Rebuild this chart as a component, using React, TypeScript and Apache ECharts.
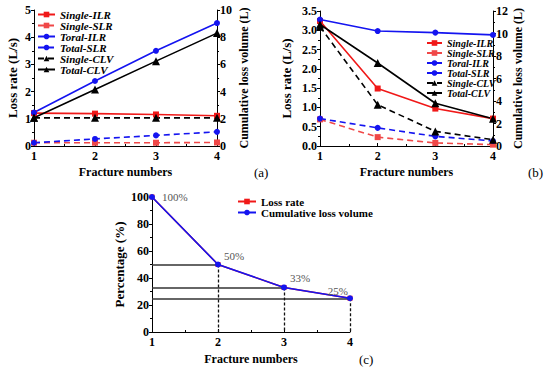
import React, { useEffect, useRef } from "react";
import * as echarts from "echarts";

const fractureNumbers = [1, 2, 3, 4];

// Panel (a)
const aSingleILR = [1.21, 1.19, 1.16, 1.11];
const aSingleSLR = [0.12, 0.12, 0.12, 0.13];
const aTotalILR = [1.23, 2.39, 3.5, 4.52];
const aTotalSLR = [0.12, 0.26, 0.39, 0.52];
const aSingleCLV = [2.07, 2.07, 2.07, 2.07];
const aTotalCLV = [2.08, 4.15, 6.24, 8.3];

// Panel (b)
const bSingleILR = [3.24, 1.49, 0.97, 0.71];
const bSingleSLR = [0.69, 0.23, 0.08, 0.035];
const bTotalILR = [3.28, 2.98, 2.94, 2.88];
const bTotalSLR = [0.71, 0.47, 0.25, 0.13];
const bSingleCLV = [10.6, 3.67, 1.3, 0.56];
const bTotalCLV = [10.8, 7.38, 3.8, 2.43];

// Panel (c)
const cLossRate = [100, 50, 33, 25];
const cCumulative = [100, 50, 33, 25];
const cLabels = ["100%", "50%", "33%", "25%"];

const seriesNames = ["Single-ILR", "Single-SLR", "Toral-ILR", "Total-SLR", "Single-CLV", "Total-CLV"];
const cNames = ["Loss rate", "Cumulative loss volume"];
const axisNames = {
  x: "Fracture numbers",
  lossRate: "Loss rate (L/s)",
  clv: "Cumulative loss volume (L)",
  pct: "Percentage (%)",
};

const FONT = '"Liberation Serif", serif';
const RED = "#f01818";
const RED_D = "#f04848";
const BLUE = "#1414f0";
const BLACK = "#000000";

const pts = (ys: number[]) => ys.map((y, i) => [fractureNumbers[i], y]);

function xAxisCfg(gridIndex: number) {
  return {
    type: "value",
    gridIndex,
    min: 1,
    max: 4,
    interval: 1,
    name: axisNames.x,
    nameLocation: "middle",
    nameGap: 20,
    nameTextStyle: { fontFamily: FONT, fontWeight: "bold", fontSize: 12, color: "#000" },
    axisLine: { show: true, onZero: false, lineStyle: { color: "#000", width: 1 } },
    axisTick: { show: true, length: 3, inside: true, lineStyle: { color: "#000" } },
    minorTick: { show: true, splitNumber: 2, length: 2, lineStyle: { color: "#000" } },
    axisLabel: { fontFamily: FONT, fontWeight: "bold", fontSize: 12, color: "#000", margin: 4 },
    splitLine: { show: false },
  };
}

function yAxisCfg(gridIndex: number, opts: any) {
  return {
    type: "value",
    gridIndex,
    nameLocation: "middle",
    nameTextStyle: { fontFamily: FONT, fontWeight: "bold", fontSize: 13, color: "#000" },
    axisLine: { show: true, onZero: false, lineStyle: { color: "#000", width: 1 } },
    axisTick: { show: true, length: 3, lineStyle: { color: "#000" } },
    minorTick: { show: true, splitNumber: 2, length: 2, lineStyle: { color: "#000" } },
    axisLabel: { fontFamily: FONT, fontWeight: "bold", fontSize: 12, color: "#000", margin: 3 },
    splitLine: { show: false },
    ...opts,
  };
}

function lineSeries(
  name: string,
  data: number[],
  xAxisIndex: number,
  yAxisIndex: number,
  color: string,
  symbol: string,
  symbolSize: number,
  dashed: boolean
) {
  return {
    type: "line",
    name,
    xAxisIndex,
    yAxisIndex,
    data: pts(data),
    symbol,
    symbolSize,
    itemStyle: { color },
    lineStyle: { color, width: 1.6, type: dashed ? [6, 4] : "solid" },
  };
}

function buildOption() {
  const legendText = { fontFamily: FONT, fontWeight: "bold", fontStyle: "italic", fontSize: 11, color: "#000" };
  const cumData = cCumulative.map((v, i) => {
    const offsets: any[] = [
      { position: "right", offset: [2, 0] },
      { position: "right", offset: [-2, -9] },
      { position: "right", offset: [-2, -9] },
      { position: "left", offset: [6, -7] },
    ];
    return {
      value: [fractureNumbers[i], v],
      label: { show: true, formatter: cLabels[i], ...offsets[i] },
    };
  });
  const clvNameStyle = { fontFamily: FONT, fontWeight: "bold", fontSize: 12, color: "#000" };
  return {
    animation: false,
    backgroundColor: "#ffffff",
    grid: [
      { left: 34, top: 10, width: 183, height: 136 },
      { left: 320, top: 11, width: 173, height: 135 },
      { left: 152, top: 197, width: 198, height: 135 },
    ],
    legend: [
      {
        data: seriesNames,
        orient: "vertical",
        left: 37,
        top: 9,
        itemWidth: 17,
        itemHeight: 7,
        itemGap: 0,
        textStyle: legendText,
        padding: 0,
      },
      {
        data: seriesNames,
        orient: "vertical",
        left: 426,
        top: 38,
        itemWidth: 15,
        itemHeight: 7,
        itemGap: 0,
        textStyle: { ...legendText, fontSize: 10, lineHeight: 10 },
        padding: 0,
      },
      {
        data: cNames,
        orient: "vertical",
        left: 237,
        top: 196,
        itemWidth: 18,
        itemHeight: 7,
        itemGap: 0,
        textStyle: { fontFamily: FONT, fontWeight: "bold", fontSize: 11, color: "#000" },
        padding: 0,
      },
    ],
    xAxis: [xAxisCfg(0), xAxisCfg(1), { ...xAxisCfg(2), nameGap: 21 }],
    yAxis: [
      yAxisCfg(0, { min: 0, max: 5, interval: 1, name: axisNames.lossRate, nameGap: 15 }),
      yAxisCfg(0, {
        position: "right",
        min: 0,
        max: 10,
        interval: 2,
        name: axisNames.clv,
        nameGap: 21,
        nameRotate: 90,
        nameTextStyle: clvNameStyle,
      }),
      yAxisCfg(1, {
        min: 0,
        max: 3.5,
        interval: 0.5,
        name: axisNames.lossRate,
        nameGap: 27,
        axisLabel: {
          fontFamily: FONT,
          fontWeight: "bold",
          fontSize: 12,
          color: "#000",
          margin: 3,
          formatter: (v: number) => v.toFixed(1),
        },
      }),
      yAxisCfg(1, {
        position: "right",
        min: 0,
        max: 12,
        interval: 2,
        name: axisNames.clv,
        nameGap: 16,
        nameRotate: 90,
        nameTextStyle: clvNameStyle,
      }),
      yAxisCfg(2, { min: 0, max: 100, interval: 20, name: axisNames.pct, nameGap: 26 }),
    ],
    series: [
      // (a)
      lineSeries(seriesNames[0], aSingleILR, 0, 0, RED, "rect", 6, false),
      lineSeries(seriesNames[1], aSingleSLR, 0, 0, RED_D, "rect", 6, true),
      lineSeries(seriesNames[2], aTotalILR, 0, 0, BLUE, "circle", 6, false),
      lineSeries(seriesNames[3], aTotalSLR, 0, 0, BLUE, "circle", 6, true),
      lineSeries(seriesNames[4], aSingleCLV, 0, 1, BLACK, "triangle", 8, true),
      lineSeries(seriesNames[5], aTotalCLV, 0, 1, BLACK, "triangle", 8, false),
      // (b)
      lineSeries(seriesNames[0], bSingleILR, 1, 2, RED, "rect", 6, false),
      lineSeries(seriesNames[1], bSingleSLR, 1, 2, RED_D, "rect", 6, true),
      lineSeries(seriesNames[2], bTotalILR, 1, 2, BLUE, "circle", 6, false),
      lineSeries(seriesNames[3], bTotalSLR, 1, 2, BLUE, "circle", 6, true),
      lineSeries(seriesNames[4], bSingleCLV, 1, 3, BLACK, "triangle", 8, true),
      lineSeries(seriesNames[5], bTotalCLV, 1, 3, BLACK, "triangle", 8, false),
      // (c)
      {
        type: "line",
        name: cNames[0],
        xAxisIndex: 2,
        yAxisIndex: 4,
        data: pts(cLossRate),
        symbol: "rect",
        symbolSize: 5,
        itemStyle: { color: RED },
        lineStyle: { color: RED, width: 1.5 },
        markLine: {
          silent: true,
          symbol: "none",
          label: { show: false },
          data: [
            ...cLossRate.slice(1).map((v, i) => [
              { coord: [fractureNumbers[0], v], lineStyle: { color: "#333", width: 1.6, type: "solid" } },
              { coord: [fractureNumbers[i + 1], v] },
            ]),
            ...cLossRate.slice(1).map((v, i) => [
              { coord: [fractureNumbers[i + 1], v], lineStyle: { color: "#111", width: 1.3, type: [3, 2] } },
              { coord: [fractureNumbers[i + 1], 0] },
            ]),
          ],
        },
      },
      {
        type: "line",
        name: cNames[1],
        xAxisIndex: 2,
        yAxisIndex: 4,
        data: cumData,
        symbol: "circle",
        symbolSize: 6,
        itemStyle: { color: BLUE },
        lineStyle: { color: BLUE, width: 1.6 },
        label: { fontFamily: FONT, fontSize: 11, color: "#555" },
        z: 5,
      },
    ],
    graphic: [
      { type: "text", left: 254, top: 166, style: { text: "(a)", font: `13px "Liberation Serif"`, fill: "#000" } },
      { type: "text", left: 528, top: 166, style: { text: "(b)", font: `13px "Liberation Serif"`, fill: "#000" } },
      { type: "text", left: 359, top: 353, style: { text: "(c)", font: `13px "Liberation Serif"`, fill: "#000" } },
    ],
  };
}

export default function App() {
  const ref = useRef<HTMLDivElement>(null);
  useEffect(() => {
    if (!ref.current) return;
    const chart = echarts.init(ref.current, undefined, { renderer: "svg" });
    chart.setOption(buildOption() as any);
    return () => chart.dispose();
  }, []);
  return (
    <div
      ref={ref}
      style={{ position: "absolute", left: 0, top: 0, width: 550, height: 371, background: "#fff" }}
    />
  );
}
